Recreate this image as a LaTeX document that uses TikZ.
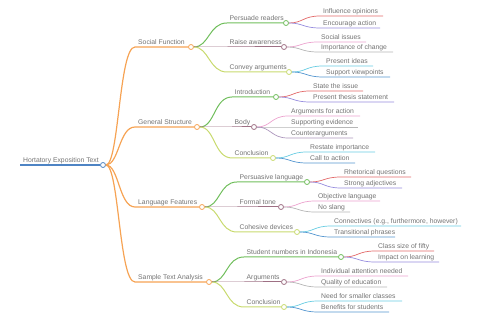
\documentclass[tikz,border=0pt]{standalone}
\usepackage{fontspec}
\setmainfont{Liberation Sans}
\definecolor{mmblue}{RGB}{78,132,196}
\definecolor{mmorange}{RGB}{246,163,84}
\definecolor{mmgreen}{RGB}{112,190,92}
\definecolor{mmmauve}{RGB}{158,112,132}
\definecolor{mmlime}{RGB}{200,218,110}
\definecolor{mmred}{RGB}{226,104,104}
\definecolor{mmviolet}{RGB}{150,140,222}
\definecolor{mmpink}{RGB}{236,162,206}
\definecolor{mmgrey}{RGB}{182,182,182}
\definecolor{mmlilac}{RGB}{172,150,188}
\definecolor{mmcyan}{RGB}{104,204,226}
\definecolor{mmsky}{RGB}{84,150,208}
\begin{document}
\begin{tikzpicture}[x=1pt, y=-1pt, font=\fontsize{6.8}{8}\selectfont,
  lbl/.style={anchor=base west, text=black!55, inner sep=0pt},
  knob/.style={circle, draw, fill=white, inner sep=0pt, minimum size=5pt, line width=0.8pt}]
\useasboundingbox (0,0) rectangle (480,320);
% root
\coordinate (root-s) at (20,165);
\node[knob, draw=mmblue] (root) at (103,165) {};
\draw[mmblue, line width=1.5pt] (root-s) -- (root);
\node[lbl] (root-t) at (23,162.5) {Hortatory Exposition Text};
% level 1
\foreach \n/\e/\y/\t in {sf/191/47/Social Function, gs/197/127/General Structure, lf/202/207/Language Features, sta/209/282/Sample Text Analysis} {\coordinate (\n-s) at (135,\y); \node[knob, draw=mmorange] (\n) at (\e,\y) {}; \draw[mmorange, line width=1.2pt] (root) .. controls +(16,0) and +(-16,0) .. (\n-s) -- (\n); \node[lbl] (\n-t) at (138,\y-2.5) {\t};}
% level 2
\foreach \p/\n/\s/\e/\y/\c/\t in {sf/pr/227/286/23/mmgreen/Persuade readers, sf/ra/227/284/47/mmmauve/Raise awareness, sf/ca/227/289/72/mmlime/Convey arguments, gs/intro/232/276/97/mmgreen/Introduction, gs/body/232/254/127/mmmauve/Body, gs/concl/232/273/158/mmlime/Conclusion, lf/pl/237/307/182/mmgreen/Persuasive language, lf/ft/237/281/207/mmmauve/Formal tone, lf/cd/237/297/232/mmlime/Cohesive devices, sta/sn/244/341/257/mmgreen/Student numbers in Indonesia, sta/arg/244/284/282/mmmauve/Arguments, sta/conc/244/284/307/mmlime/Conclusion} {\coordinate (\n-s) at (\s,\y); \node[knob, draw=\c] (\n) at (\e,\y) {}; \draw[\c, line width=1pt] (\p) .. controls +(18,0) and +(-18,0) .. (\n-s) -- (\n); \node[lbl] (\n-t) at (\s+2.5,\y-2.5) {\t};}
% level 3 (leaves)
\foreach \p/\n/\s/\e/\y/\c/\t in {pr/io/320/383/16/mmred/Influence opinions, pr/ea/320/380/28/mmviolet/Encourage action, ra/si/318/366/42/mmpink/Social issues, ra/ic/318/393/52/mmgrey/Importance of change, ca/pi/323/373/66/mmcyan/Present ideas, ca/sv/323/390/77/mmsky/Support viewpoints, intro/st/310/363/91/mmred/State the issue, intro/pts/310/394/102/mmviolet/Present thesis statement, body/afa/288/360/116/mmpink/Arguments for action, body/se/288/358/127/mmgrey/Supporting evidence, body/ctr/288/353/138/mmlilac/Counterarguments, concl/ri/307/375/152/mmcyan/Restate importance, concl/cta/307/355/163/mmsky/Call to action, pl/rq/341/411/177/mmred/Rhetorical questions, pl/sa/341/402/188/mmviolet/Strong adjectives, ft/ol/315/380/201/mmpink/Objective language, ft/ns/315/350/212/mmgrey/No slang, cd/con/331/461/226/mmcyan/{Connectives (e.g., furthermore, however)}, cd/tp/331/395/237/mmsky/Transitional phrases, sn/cs/375/434/251/mmred/Class size of fifty, sn/il/375/439/262/mmviolet/Impact on learning, arg/ia/318/408/276/mmpink/Individual attention needed, arg/qe/318/387/287/mmgrey/Quality of education, conc/nsc/318/402/301/mmcyan/Need for smaller classes, conc/bs/318/389/312/mmsky/Benefits for students} {\coordinate (\n-s) at (\s,\y); \coordinate (\n) at (\e,\y); \draw[\c, line width=0.7pt] (\p) .. controls +(17,0) and +(-17,0) .. (\n-s) -- (\n); \node[lbl] (\n-t) at (\s+3,\y-2.5) {\t};}
\end{tikzpicture}
\end{document}
